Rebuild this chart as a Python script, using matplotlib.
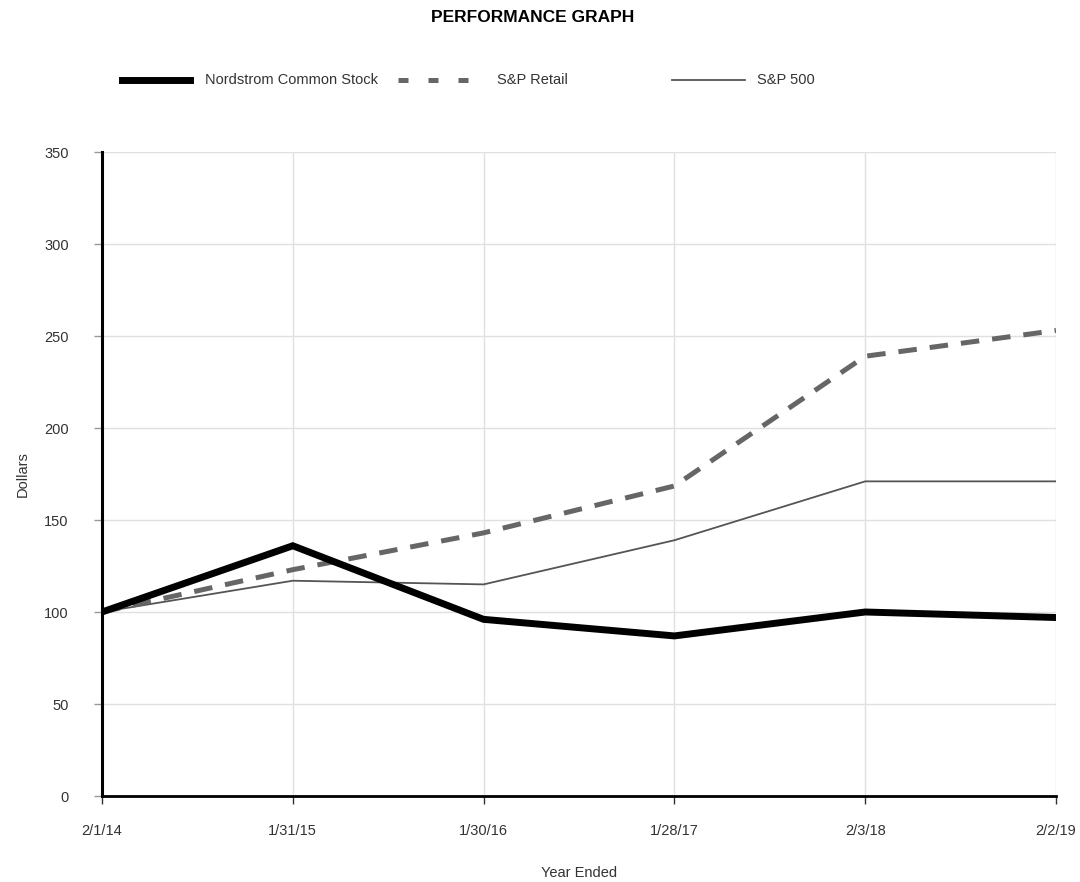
import matplotlib.pyplot as plt
from matplotlib import font_manager

# Year-end dates and cumulative total return values ($100 invested)
dates = ['2/1/14', '1/31/15', '1/30/16', '1/28/17', '2/3/18', '2/2/19']
nordstrom = [100, 136, 96, 87, 100, 97]
sp_retail = [100, 123, 143, 168.5, 239, 253]
sp_500 = [100, 117, 115, 139, 171, 171]

names = {f.name for f in font_manager.fontManager.ttflist}
fam = 'Liberation Sans Narrow' if 'Liberation Sans Narrow' in names else 'Liberation Sans'
plt.rcParams['font.family'] = [fam, 'DejaVu Sans']

fig = plt.figure(figsize=(10.8, 8.82), dpi=100)
ax = fig.add_axes([102 / 1080, 86 / 882, 954 / 1080, 644 / 882])

x = list(range(len(dates)))
l1, = ax.plot(x, nordstrom, color='black', lw=5, solid_joinstyle='miter', zorder=5)
l2, = ax.plot(x, sp_retail, color='#666666', lw=3.6, ls=(0, (3.7, 2.6)), zorder=4)
l3, = ax.plot(x, sp_500, color='#555555', lw=1.3, zorder=3)

ax.set_xlim(0, 5)
ax.set_ylim(0, 350)
ax.set_xticks(x)
ax.set_xticklabels(dates)
ax.set_yticks(range(0, 351, 50))
ax.grid(True, color='#e0e0e0', lw=1)
ax.set_axisbelow(True)

for s in ['top', 'right']:
    ax.spines[s].set_visible(False)
ax.spines['left'].set_linewidth(2.2)
ax.spines['bottom'].set_linewidth(2)
ax.tick_params(axis='x', length=6, width=1, pad=14, labelsize=10.5, colors='#333333')
ax.tick_params(axis='y', length=6, width=1, color='#999999', pad=18, labelsize=10.5, labelcolor='#333333')

ax.set_xlabel('Year Ended', fontsize=10.5, color='#333333', labelpad=20)
ax.set_ylabel('Dollars', fontsize=10.5, color='#333333', labelpad=10)

fig.text(533 / 1080, 1 - 18 / 882, 'PERFORMANCE GRAPH', ha='center', va='center',
         fontsize=12.5, fontweight='bold')

# legend drawn manually in one row
leg_y = 1 - 80 / 882
items = [(l1, 'Nordstrom Common Stock', 122, 190, 205, '-', 5),
         (l2, 'S&P Retail', 398, 468, 497, (0, (2, 4)), 3.6),
         (l3, 'S&P 500', 672, 745, 757, '-', 1.3)]
for line, label, x0, x1, tx, ls, lw in items:
    fig.add_artist(plt.Line2D([x0 / 1080, x1 / 1080], [leg_y, leg_y], color=line.get_color(),
                              lw=lw, ls=ls, transform=fig.transFigure))
    fig.text(tx / 1080, leg_y, label, ha='left', va='center', fontsize=10.5, color='#333333')

fig.savefig('out.png', dpi=100)
